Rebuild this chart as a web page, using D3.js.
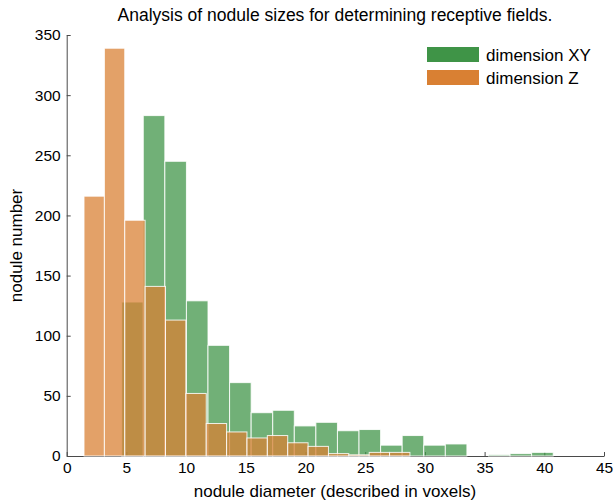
<!DOCTYPE html>
<html>
<head>
<meta charset="utf-8">
<script src="https://d3js.org/d3.v7.min.js"></script>
<style>
  body { margin: 0; background: #fff; }
  svg text { font-family: "Liberation Sans", Arial, sans-serif; fill: #000; }
</style>
</head>
<body>
<div id="chart"></div>
<script>
// histogram counts
var xyStart = 4.606, xyWidth = 1.807;
var xyCounts = [128, 283, 245, 129, 92, 61, 36, 38, 25, 28, 21, 22, 9, 17, 9, 10, 0, 1, 2, 3];
var zStart = 1.45, zWidth = 1.706;
var zCounts = [216, 339, 196, 141, 113, 52, 27, 20, 15, 17, 11, 8, 2, 1, 3, 3];
var xTicks = [0, 5, 10, 15, 20, 25, 30, 35, 40, 45];
var yTicks = [0, 50, 100, 150, 200, 250, 300, 350];
var seriesNames = ["dimension XY", "dimension Z"];
var seriesColors = ["#3f9447", "#d98033"];

var W = 614, H = 501;
var margin = {top: 35, right: 10, bottom: 45, left: 66.7};

var svg = d3.select("#chart").append("svg")
    .attr("width", W)
    .attr("height", H);

var x = d3.scaleLinear().domain([0, 45]).range([margin.left, 604]);
var y = d3.scaleLinear().domain([0, 350]).range([456, margin.top]);

// turn counts into bins
function toBins(start, width, counts) {
  return counts.map(function(c, i) {
    return {x0: start + i * width, x1: start + (i + 1) * width, n: c};
  });
}
var xyBins = toBins(xyStart, xyWidth, xyCounts);
var zBins = toBins(zStart, zWidth, zCounts);

// axes first, bars are drawn over them
var xAxis = svg.append("g")
    .attr("transform", "translate(0," + y(0) + ")")
    .call(d3.axisBottom(x).tickValues(xTicks).tickSizeInner(-4).tickSizeOuter(0).tickPadding(6));
var yAxis = svg.append("g")
    .attr("transform", "translate(" + x(0) + ",0)")
    .call(d3.axisLeft(y).tickValues(yTicks).tickSizeInner(-4).tickSizeOuter(0).tickPadding(6));

[xAxis, yAxis].forEach(function(a) {
  a.selectAll("path, line").attr("stroke", "#4a4a4a");
  a.selectAll("text").style("font-size", "15.5px").attr("fill", "#000");
});

function drawBars(bins, color) {
  svg.append("g").selectAll("rect")
    .data(bins)
    .enter()
    .append("rect")
      .attr("x", function(d) { return x(d.x0); })
      .attr("width", function(d) { return x(d.x1) - x(d.x0); })
      .attr("y", function(d) { return y(d.n); })
      .attr("height", function(d) { return y(0) - y(d.n); })
      .attr("fill", color)
      .attr("fill-opacity", 0.74)
      .attr("stroke", "#fff")
      .attr("stroke-opacity", 0.85)
      .attr("stroke-width", 1);
}
drawBars(xyBins, seriesColors[0]);
drawBars(zBins, seriesColors[1]);

// title and axis labels
svg.append("text")
    .attr("x", 335)
    .attr("y", 21)
    .attr("text-anchor", "middle")
    .style("font-size", "17.5px")
    .text("Analysis of nodule sizes for determining receptive fields.");

svg.append("text")
    .attr("x", 335)
    .attr("y", 497)
    .attr("text-anchor", "middle")
    .style("font-size", "17px")
    .text("nodule diameter (described in voxels)");

svg.append("text")
    .attr("transform", "translate(22,245.5) rotate(-90)")
    .attr("text-anchor", "middle")
    .style("font-size", "17px")
    .text("nodule number");

// legend
var legend = svg.append("g");
seriesNames.forEach(function(name, i) {
  legend.append("rect")
      .attr("x", 427)
      .attr("y", 47 + i * 23)
      .attr("width", 52)
      .attr("height", 15)
      .attr("fill", seriesColors[i]);
  legend.append("text")
      .attr("x", 486)
      .attr("y", 60.5 + i * 23)
      .style("font-size", "17px")
      .text(name);
});
</script>
</body>
</html>
